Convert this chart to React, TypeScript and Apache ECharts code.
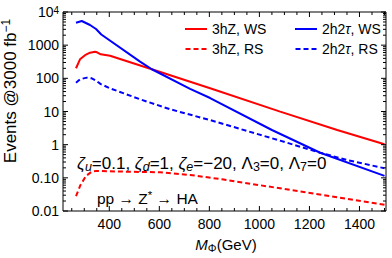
import React, { useEffect, useRef } from 'react';
import * as echarts from 'echarts';

// ---- Data ----
const massWS3hZ = [267, 283, 303, 323, 343, 351, 366, 403, 570, 803, 1083, 1311, 1500];
const eventsWS3hZ = [201, 375, 500, 593, 635, 610, 531, 482, 188, 50, 9.9, 2.76, 1.03];

const massWS2h2tau = [267, 290, 323, 347, 368, 523, 570, 723, 803, 1050, 1243, 1500];
const eventsWS2h2tau = [4760, 5360, 4060, 3070, 2100, 318, 188, 48, 25.5, 2.77, 0.57, 0.115];

const massRS3hZ = [267, 285, 307, 330, 350, 470, 603, 723, 851, 1171, 1500];
const eventsRS3hZ = [0.028, 0.061, 0.114, 0.153, 0.162, 0.153, 0.147, 0.122, 0.09, 0.038, 0.0155];

const massRS2h2tau = [267, 283, 310, 330, 347, 366, 403, 523, 643, 803, 1083, 1243, 1351, 1500];
const eventsRS2h2tau = [74, 94, 105, 100, 85, 67, 50, 23.3, 11.7, 5.5, 1.32, 0.57, 0.345, 0.194];

const seriesNames = ['3hZ, WS', '2h2τ, WS', '3hZ, RS', '2h2τ, RS'];

const yTickValues = [0.01, 0.1, 1, 10, 100, 1000, 10000];
const yTickLabels = ['0.01', '0.10', '1', '10', '100', '1000', '{b|10}{sup|4}'];
const yMinorMultipliers = [2, 3, 4, 5, 6, 7, 8, 9];
const xMajorTicks = [400, 600, 800, 1000, 1200, 1400];
const xMinorTicks = [250, 300, 350, 450, 500, 550, 650, 700, 750, 850, 900, 950, 1050, 1100, 1150, 1250, 1300, 1350, 1450, 1500];

const X_MIN = 215;
const X_MAX = 1506;
const Y_MIN = 0.01;
const Y_MAX = 10000;

const FONT = "'Liberation Sans', Arial, sans-serif";
const RED = '#ff0000';
const BLUE = '#0000ff';
const SOLID_ICON = 'path://M0,0h22v2h-22z';
const DASHED_ICON = 'path://M0,0h5v2h-5zM8,0h5v2h-5zM16,0h5v2h-5z';

function pairs(xs: number[], ys: number[]) {
  return xs.map((x, i) => [x, ys[i]]);
}

export default function App() {
  const ref = useRef<HTMLDivElement>(null);

  useEffect(() => {
    if (!ref.current) return;
    const chart = echarts.init(ref.current, undefined, { renderer: 'svg' });

    // tick items: [x, y, kind(0 = x-axis tick, 1 = y-axis tick), length]
    const tickItems: number[][] = [];
    xMajorTicks.forEach((v) => tickItems.push([v, Y_MIN, 0, 5]));
    xMinorTicks.forEach((v) => tickItems.push([v, Y_MIN, 0, 3]));
    yTickValues.forEach((v, i) => {
      tickItems.push([X_MIN, v, 1, 5]);
      if (i < yTickValues.length - 1) {
        yMinorMultipliers.forEach((m) => tickItems.push([X_MIN, v * m, 1, 3]));
      }
    });

    const lineSeries = (name: string, data: number[][], color: string, dashed: boolean) => ({
      name,
      type: 'line',
      data,
      symbol: 'none',
      showSymbol: false,
      smooth: false,
      lineStyle: { color, width: 2, type: dashed ? [5, 3] : 'solid' },
      itemStyle: { color },
      z: 3,
    });

    const legendBase = {
      orient: 'vertical',
      top: 22,
      padding: 0,
      itemWidth: 22,
      itemHeight: 2,
      itemGap: 6,
      itemStyle: { borderWidth: 0 },
      textStyle: {
        fontSize: 14,
        lineHeight: 14,
        fontFamily: FONT,
        color: '#000',
        rich: { i: { fontStyle: 'italic', fontSize: 14, fontFamily: FONT, color: '#000' } },
      },
      formatter: (name: string) => name.replace('τ', '{i|τ}'),
    };

    chart.setOption({
      animation: false,
      grid: {
        left: 63,
        right: 6,
        top: 12,
        bottom: 47,
        show: true,
        borderColor: '#000',
        borderWidth: 1,
        backgroundColor: 'transparent',
      },
      legend: [
        {
          ...legendBase,
          left: 185,
          data: [
            { name: seriesNames[0], icon: SOLID_ICON },
            { name: seriesNames[2], icon: DASHED_ICON },
          ],
        },
        {
          ...legendBase,
          left: 295,
          data: [
            { name: seriesNames[1], icon: SOLID_ICON },
            { name: seriesNames[3], icon: DASHED_ICON },
          ],
        },
      ],
      xAxis: {
        type: 'value',
        min: X_MIN,
        max: X_MAX,
        splitNumber: 7,
        axisLine: { show: false },
        axisTick: { show: false },
        splitLine: { show: false },
        axisLabel: {
          margin: 6,
          fontSize: 14,
          fontFamily: FONT,
          color: '#000',
          showMinLabel: false,
          showMaxLabel: false,
          formatter: (v: number) => (xMajorTicks.indexOf(v) >= 0 ? String(v) : ''),
        },
      },
      yAxis: {
        type: 'log',
        logBase: 10,
        min: Y_MIN,
        max: Y_MAX,
        splitNumber: 6,
        axisLine: { show: false },
        axisTick: { show: false },
        splitLine: { show: false },
        minorTick: { show: false },
        axisLabel: {
          margin: 4,
          fontSize: 14,
          fontFamily: FONT,
          color: '#000',
          formatter: (v: number) => {
            const idx = yTickValues.findIndex((t) => Math.abs(Math.log10(t) - Math.log10(v)) < 1e-6);
            return idx >= 0 ? yTickLabels[idx] : '';
          },
          rich: {
            b: { fontSize: 14, fontFamily: FONT, color: '#000' },
            sup: { fontSize: 10, lineHeight: 10, verticalAlign: 'top', fontFamily: FONT, color: '#000' },
          },
        },
      },
      series: [
        lineSeries(seriesNames[0], pairs(massWS3hZ, eventsWS3hZ), RED, false),
        lineSeries(seriesNames[1], pairs(massWS2h2tau, eventsWS2h2tau), BLUE, false),
        lineSeries(seriesNames[2], pairs(massRS3hZ, eventsRS3hZ), RED, true),
        lineSeries(seriesNames[3], pairs(massRS2h2tau, eventsRS2h2tau), BLUE, true),
        {
          name: 'ticks',
          type: 'custom',
          silent: true,
          clip: false,
          z: 5,
          encode: { x: 0, y: 1 },
          data: tickItems,
          renderItem: (_params: any, api: any) => {
            const kind = api.value(2);
            const len = api.value(3);
            const st = { stroke: '#000', lineWidth: 1 };
            if (kind === 0) {
              const b = api.coord([api.value(0), Y_MIN]);
              const t = api.coord([api.value(0), Y_MAX]);
              return {
                type: 'group',
                children: [
                  { type: 'line', shape: { x1: b[0], y1: b[1], x2: b[0], y2: b[1] - len }, style: st },
                  { type: 'line', shape: { x1: t[0], y1: t[1], x2: t[0], y2: t[1] + len }, style: st },
                ],
              };
            }
            const l = api.coord([X_MIN, api.value(1)]);
            const r = api.coord([X_MAX, api.value(1)]);
            return {
              type: 'group',
              children: [
                { type: 'line', shape: { x1: l[0], y1: l[1], x2: l[0] + len, y2: l[1] }, style: st },
                { type: 'line', shape: { x1: r[0], y1: r[1], x2: r[0] - len, y2: r[1] }, style: st },
              ],
            };
          },
        },
      ],
      graphic: [
        {
          type: 'text',
          x: 10,
          y: 91,
          rotation: Math.PI / 2,
          style: {
            text: '{n|Events @3000 fb}{sup|−1}',
            align: 'center',
            verticalAlign: 'middle',
            textAlign: 'center',
            textVerticalAlign: 'middle',
            fill: '#000',
            rich: {
              n: { fontSize: 17, lineHeight: 20, fontFamily: FONT, fill: '#000' },
              sup: { fontSize: 12, lineHeight: 12, verticalAlign: 'top', fontFamily: FONT, fill: '#000' },
            },
          },
        },
        {
          type: 'text',
          x: 226,
          y: 244,
          style: {
            text: '{i|M}{s|Φ}{n|(GeV)}',
            align: 'center',
            verticalAlign: 'middle',
            textAlign: 'center',
            textVerticalAlign: 'middle',
            fill: '#000',
            rich: {
              i: { fontSize: 15, lineHeight: 18, fontStyle: 'italic', fontFamily: FONT, fill: '#000' },
              s: { fontSize: 11, lineHeight: 11, verticalAlign: 'bottom', fontFamily: FONT, fill: '#000' },
              n: { fontSize: 15, lineHeight: 18, fontFamily: FONT, fill: '#000' },
            },
          },
        },
        {
          type: 'text',
          x: 77,
          y: 163,
          style: {
            text:
              '{i|ζ}{s|u}{n|=0.1, }{i|ζ}{s|d}{n|=1, }{i|ζ}{s|e}{n|=−20, }{n|Λ}{s2|3}{n|=0, }{n|Λ}{s2|7}{n|=0}',
            align: 'left',
            verticalAlign: 'middle',
            textAlign: 'left',
            textVerticalAlign: 'middle',
            fill: '#000',
            rich: {
              i: { fontSize: 17, lineHeight: 20, fontStyle: 'italic', fontFamily: FONT, fill: '#000' },
              n: { fontSize: 17, lineHeight: 20, fontFamily: FONT, fill: '#000' },
              s: { fontSize: 12.5, lineHeight: 12.5, verticalAlign: 'bottom', fontStyle: 'italic', fontFamily: FONT, fill: '#000' },
              s2: { fontSize: 12.5, lineHeight: 12.5, verticalAlign: 'bottom', fontFamily: FONT, fill: '#000' },
            },
          },
        },
        {
          type: 'text',
          x: 97,
          y: 198,
          style: {
            text: '{n|pp → Z}{sup|*}{n| → HA}',
            align: 'left',
            verticalAlign: 'middle',
            textAlign: 'left',
            textVerticalAlign: 'middle',
            fill: '#000',
            rich: {
              n: { fontSize: 15.5, lineHeight: 18, fontFamily: FONT, fill: '#000' },
              sup: { fontSize: 11.5, lineHeight: 11.5, verticalAlign: 'top', fontFamily: FONT, fill: '#000' },
            },
          },
        },
      ],
    });

    return () => chart.dispose();
  }, []);

  return (
    <div
      ref={ref}
      style={{ position: 'fixed', left: 0, top: 0, width: 392, height: 258, background: '#fff' }}
    />
  );
}
